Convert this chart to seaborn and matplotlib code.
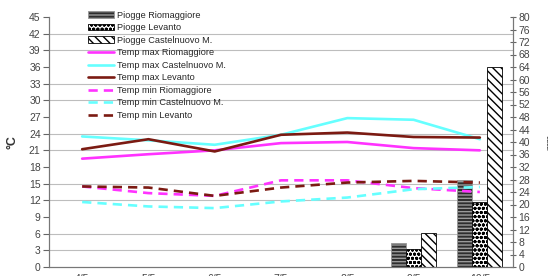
import numpy as np
import pandas as pd
import matplotlib
matplotlib.use('Agg')
import matplotlib.pyplot as plt
import seaborn as sns
from matplotlib.ticker import MultipleLocator, FixedLocator
from matplotlib.lines import Line2D


# ── Data ──────────────────────────────────────────────────────────────────────

giorni = ['4/5', '5/5', '6/5', '7/5', '8/5', '9/5', '10/5']

piogge_rio = [0, 0, 0, 0, 0, 7.6, 27.8]
piogge_lev = [0, 0, 0, 0, 0, 5.9, 20.9]
piogge_cas = [0, 0, 0, 0, 0, 11.0, 64.0]

tmax_rio = [19.5, 20.3, 21.0, 22.3, 22.5, 21.4, 21.0]
tmax_cas = [23.5, 22.8, 22.0, 23.8, 26.8, 26.5, 23.0]
tmax_lev = [21.2, 23.0, 20.8, 23.8, 24.2, 23.4, 23.3]
tmin_rio = [14.5, 13.3, 12.8, 15.6, 15.6, 14.2, 13.5]
tmin_cas = [11.7, 10.9, 10.6, 11.8, 12.5, 14.0, 14.4]
tmin_lev = [14.5, 14.3, 12.8, 14.3, 15.2, 15.5, 15.2]

bar_names = ['Piogge Riomaggiore', 'Piogge Levanto', 'Piogge Castelnuovo M.']
line_names = ['Temp max Riomaggiore', 'Temp max Castelnuovo M.', 'Temp max Levanto',
              'Temp min Riomaggiore', 'Temp min Castelnuovo M.', 'Temp min Levanto']

MAGENTA, CYAN, BROWN = '#ff33ff', '#66ffff', '#7b1a12'

# ── Style ─────────────────────────────────────────────────────────────────────

sns.set_style('white')
plt.rcParams['font.family'] = ['Liberation Sans', 'DejaVu Sans']
plt.rcParams['hatch.linewidth'] = 1.0

fig = plt.figure(figsize=(5.48, 2.76), dpi=100)
ax = fig.add_axes([49 / 548, 9 / 276, 464 / 548, 250 / 276])   # bars (mm)
ax2 = ax.twinx()                                                 # temperatures (°C)

# ── Bars ──────────────────────────────────────────────────────────────────────

df_bar = pd.DataFrame({
    'giorno': giorni * 3,
    'mm': piogge_rio + piogge_lev + piogge_cas,
    'serie': sum([[n] * len(giorni) for n in bar_names], []),
})
sns.barplot(data=df_bar, x='giorno', y='mm', hue='serie', order=giorni,
            hue_order=bar_names, width=0.68, gap=0, ax=ax, legend=False,
            palette=['#2e2e2e', 'white', 'white'], saturation=1)

bar_styles = [('#2e2e2e', '#9a9a9a', '-----'),
              ('white', 'black', 'oooo'),
              ('white', 'black', '\\\\\\\\')]
bar_handles = []
for cont, (fc, ec, hatch), name in zip(ax.containers, bar_styles, bar_names):
    for p in cont:
        p.set_facecolor(fc)
        p.set_edgecolor(ec)
        p.set_hatch(hatch)
        p.set_linewidth(0.6)
    bar_handles.append(plt.Rectangle((0, 0), 1, 1, fc=fc, ec=ec, hatch=hatch,
                                     lw=0.6, label=name))

ax.set_ylim(0, 80)
ax.yaxis.tick_right()
ax.yaxis.set_label_position('right')
ax.yaxis.set_major_locator(MultipleLocator(4))
ax.yaxis.set_minor_locator(MultipleLocator(80 / 15))
ax.grid(which='minor', axis='y', color='#bdbdbd', lw=0.8)
ax.set_axisbelow(True)
ax.set_ylabel('mm', fontsize=7, color='#444')
ax.yaxis.set_label_coords(1.07, 0.5)

# ── Lines ─────────────────────────────────────────────────────────────────────

xpos = np.arange(len(giorni))
series = [tmax_rio, tmax_cas, tmax_lev, tmin_rio, tmin_cas, tmin_lev]
colors = [MAGENTA, CYAN, BROWN, MAGENTA, CYAN, BROWN]
line_handles = []
for vals, col, name, i in zip(series, colors, line_names, range(6)):
    dashed = i >= 3
    sns.lineplot(x=xpos, y=vals, color=col, lw=1.9, ax=ax2, legend=False)
    ln = ax2.lines[-1]
    if dashed:
        ln.set_dashes((3.5, 2.3))
    line_handles.append(Line2D([], [], color=col, lw=1.9,
                               dashes=(3.5, 2.3) if dashed else (None, None),
                               label=name))

ax2.set_ylim(0, 45)
ax2.yaxis.tick_left()
ax2.yaxis.set_label_position('left')
ax2.yaxis.set_major_locator(MultipleLocator(3))
ax2.set_ylabel('°C', fontsize=9, color='#333', fontweight='bold')
ax2.yaxis.set_label_coords(-0.065, 0.5)
ax.set_zorder(0)
ax2.set_zorder(1)
ax2.patch.set_visible(False)

# ── Axes cosmetics ────────────────────────────────────────────────────────────

ax.set_xlim(-0.5, len(giorni) - 0.5)
ax.xaxis.set_major_locator(FixedLocator(np.arange(len(giorni) + 1) - 0.5))
ax.xaxis.set_minor_locator(FixedLocator(xpos))
ax.set_xticklabels([], minor=False)
ax.set_xticklabels(giorni, minor=True)
ax.tick_params(axis='x', which='major', length=4, width=0.8, color='#666', direction='out')
ax.tick_params(axis='x', which='minor', length=0, pad=5, labelsize=7.5, labelcolor='#444')
ax.set_xlabel('')

ax.tick_params(axis='y', which='major', length=4, width=0.8, color='#666',
               direction='inout', labelsize=7.5, labelcolor='#444', pad=2)
ax.tick_params(axis='y', which='minor', length=0)
ax2.tick_params(axis='y', length=4, width=0.8, color='#666', direction='out',
                labelsize=7.5, labelcolor='#444', pad=2)

for a in (ax, ax2):
    a.spines['top'].set_visible(False)
    for s in ('left', 'right', 'bottom'):
        a.spines[s].set_color('#777')
        a.spines[s].set_linewidth(0.8)

# ── Legend ────────────────────────────────────────────────────────────────────

ax2.legend(handles=bar_handles + line_handles, loc='upper left',
           bbox_to_anchor=(0.07, 1.05), frameon=False,
           handlelength=2.9, handletextpad=0.3, labelspacing=0.38,
           borderpad=0.2, prop={'size': 6.6})

plt.savefig('out.png', dpi=100)
plt.close()
